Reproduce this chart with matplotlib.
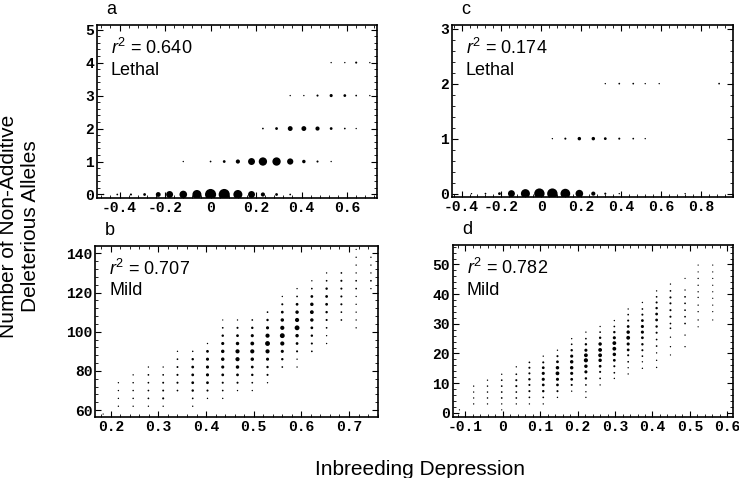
import matplotlib
matplotlib.use("Agg")
import matplotlib.pyplot as plt
from matplotlib.ticker import AutoMinorLocator

plt.rcParams['font.family'] = ['Liberation Sans', 'DejaVu Sans']
plt.rcParams['mathtext.fontset'] = 'custom'
plt.rcParams['mathtext.rm'] = 'Liberation Sans'
plt.rcParams['mathtext.it'] = 'Liberation Sans:italic'

# ---- panel a: lethal, rows of counts (x bin, allele count, dot weight)
a_x = [-0.47, -0.41, -0.35, -0.29, -0.23, -0.18, -0.12, -0.06, 0.0, 0.06, 0.12, 0.18, 0.23, 0.29, 0.35,
       -0.12, 0.0, 0.06, 0.12, 0.18, 0.23, 0.29, 0.35, 0.41, 0.47, 0.53,
       0.23, 0.29, 0.35, 0.41, 0.47, 0.53, 0.59, 0.64,
       0.35, 0.41, 0.47, 0.53, 0.59, 0.64, 0.70,
       0.53, 0.59, 0.64, 0.70]
a_y = [0] * 15 + [1] * 11 + [2] * 8 + [3] * 7 + [4] * 4
a_w = [1, 1.5, 2, 3, 6, 9, 10, 12, 15, 15, 12, 9, 5, 3, 1.5,
       1, 1.5, 3, 5, 9, 11, 11, 8, 4, 2, 1,
       1.5, 3, 6, 6, 5, 3, 1.5, 1,
       1, 1, 2, 3.5, 3, 1.5, 1,
       1, 1, 2, 1]

# ---- panel c: lethal
c_x = [-0.35, -0.28, -0.21, -0.15, -0.08, -0.01, 0.055, 0.12, 0.19, 0.26, 0.32, 0.39, 0.72,
       0.055, 0.12, 0.19, 0.26, 0.32, 0.39, 0.46, 0.52,
       0.32, 0.39, 0.46, 0.52, 0.59, 0.89]
c_y = [0] * 13 + [1] * 8 + [2] * 6
c_w = [1, 1.5, 3, 9, 12, 14, 14, 13, 10, 5, 2, 1, 1,
       1, 2, 4, 4, 3, 2, 1.5, 1,
       1, 1.5, 1.5, 1, 1, 1.5]

# ---- panel b: mild, one entry per x bin
b_cols = [0.184, 0.216, 0.247, 0.279, 0.310, 0.340, 0.372, 0.403, 0.435, 0.466,
          0.497, 0.529, 0.560, 0.591, 0.622, 0.653, 0.684, 0.715, 0.746]
b_ys = [
    [58],
    [74, 70, 66, 62],
    [78, 74, 70, 66, 62],
    [82, 78, 74, 70, 66, 62],
    [82, 78, 74, 70, 66, 62],
    [90, 86, 82, 78, 74, 70],
    [90, 86, 82, 78, 74, 70, 66, 62],
    [94, 90, 86, 82, 78, 74, 70, 66],
    [106, 102, 98, 94, 90, 86, 82, 78, 74, 70, 66],
    [106, 102, 98, 94, 90, 86, 82, 78, 74, 70],
    [106, 102, 98, 94, 90, 86, 82, 78, 74, 70],
    [110, 106, 102, 98, 94, 90, 86, 82, 78, 74],
    [118, 114, 110, 106, 102, 98, 94, 90, 86, 82],
    [122, 118, 114, 110, 106, 102, 98, 94, 90, 86, 82],
    [126, 122, 118, 114, 110, 106, 102, 98, 94, 90],
    [130, 126, 122, 118, 114, 110, 106, 102, 98, 94],
    [130, 126, 122, 118, 114, 110, 106],
    [142, 138, 134, 130, 126, 122, 118, 114, 110, 106, 102],
    [138, 134, 130, 126, 122],
]
b_ws = [
    [0.8],
    [1, 1, 1, 1],
    [1, 1.2, 1.2, 1.2, 1],
    [1, 1.5, 1.5, 1.5, 1.5, 1],
    [1, 1.5, 1.8, 1.8, 2, 1],
    [1, 1.5, 1.8, 2, 2, 1.5],
    [1.2, 2.5, 3, 3, 3, 2.5, 1.5, 1],
    [1, 3, 3.5, 3.5, 3.5, 3, 2, 1],
    [0.8, 1.5, 2.5, 3.5, 4, 4, 3.5, 3, 2, 1.5, 1],
    [1, 2, 3, 4, 5, 5, 4, 3, 2, 1],
    [1.5, 2.5, 3.5, 4.5, 5, 4, 3, 2.5, 1.5, 1],
    [1.5, 2.5, 3.5, 5, 6, 5, 3.5, 2.5, 2, 1],
    [1, 2, 3, 4, 5, 6, 5, 3.5, 2.5, 1.5],
    [1, 1.5, 3, 4, 5, 6, 4, 3, 2, 1, 1],
    [1, 1.5, 3, 4, 4.5, 4, 3, 2.5, 2, 1.5],
    [1, 1.5, 2.5, 3, 3, 2.5, 2, 1.5, 1, 1],
    [1.5, 2, 2, 2, 2, 1.5, 1.5],
    [0.8, 1, 1, 1, 1.5, 1.5, 1, 1, 1, 1, 1],
    [1, 1, 1, 1.5, 1],
]

# ---- panel d: mild
d_cols = [-0.116, -0.078, -0.041, -0.003, 0.036, 0.071, 0.108, 0.146, 0.184, 0.222,
          0.260, 0.298, 0.335, 0.373, 0.411, 0.448, 0.487, 0.522, 0.561]
d_ys = [
    [1],
    [9, 7, 5, 3],
    [11, 9, 7, 5, 3],
    [13, 11, 9, 7, 5, 3, 1],
    [15.5, 13, 11, 9, 7, 5, 3],
    [17, 15.2, 13.3, 11.3, 9.4, 7.3, 5.2, 3],
    [19.1, 17, 15.2, 13.3, 11.3, 9.4, 7.3, 5.2, 3],
    [21.1, 19.1, 17.2, 15.2, 13.3, 11.3, 9.4, 7.3, 5.2],
    [25, 23.1, 21.1, 19.1, 17.2, 15.2, 13.3, 11.3, 9.4, 7.3],
    [27.2, 25, 23.1, 21.1, 19.4, 17.7, 15.7, 13.8, 11.6, 9.4, 7.1, 5.2],
    [29.1, 27.2, 25.3, 23.2, 21.2, 19.4, 17.7, 15.7, 13.8, 11.6, 9.4],
    [31.1, 29.1, 27.2, 25.3, 23.5, 21.6, 19.7, 17.7, 15.7, 13.5, 11.6],
    [35, 33.1, 31.1, 29.1, 27.2, 25.3, 23.2, 21.2, 19.4, 17.2, 15.2, 13.1],
    [37.2, 35, 33.1, 31.1, 29.1, 27.2, 25.3, 23.1, 21.1, 19.1, 17.2, 15],
    [41.1, 39.1, 37.2, 35.3, 33.3, 31.3, 29.1, 27, 24.7, 22.5, 20.2, 17.7, 15.3],
    [43.4, 41.1, 38.9, 36.9, 34.6, 32.4, 30.1, 28.5, 25.5, 22.3, 19.5],
    [45.3, 41.4, 39.1, 36.9, 34.6, 32.4, 30.1, 26.2, 22.3],
    [49.8, 47.5, 45.3, 43, 40.8, 38.9, 36.3, 34.1, 31.3, 29],
    [49.8, 47.5, 45.3, 43, 40.8, 38.6, 36.3, 34.1, 31.3],
]
d_ws = [
    [0.8],
    [1, 1, 1, 1],
    [1, 1.2, 1.2, 1.2, 1],
    [1, 1.5, 1.5, 1.5, 1.5, 1, 0.8],
    [1, 1.5, 2, 2, 1.5, 1.5, 1],
    [1.5, 2, 2, 2.5, 2, 2, 1.5, 1],
    [1, 2, 3, 3.5, 3.5, 3, 2.5, 1.5, 1],
    [1, 2, 3, 4, 4.5, 3.5, 3, 2, 1],
    [1, 1.5, 2.5, 3.5, 4, 4, 3.5, 3, 2, 1],
    [1, 1.5, 2.5, 3.5, 4.5, 5, 4, 3.5, 2.5, 1.5, 1, 1],
    [1, 1.5, 2.5, 4, 4.5, 4.5, 4, 3, 2, 1.5, 1],
    [1, 1.5, 2.5, 3.5, 4.5, 4.5, 4, 3, 2, 1.5, 1],
    [1, 1.5, 2, 3, 4, 4.5, 3.5, 3, 2, 1.5, 1, 1],
    [1, 1.5, 2, 3, 3.5, 3.5, 3, 2.5, 2, 1.5, 1, 1],
    [1, 1.5, 2, 2.5, 3, 3, 2.5, 2, 1.5, 1.5, 1, 1, 1],
    [1, 1.5, 2, 2, 2, 2, 1.5, 1.5, 1, 1, 0.8],
    [0.8, 1, 1.5, 1.5, 1.5, 1.5, 1.5, 1, 1],
    [0.8, 0.8, 1, 1, 1, 1, 1, 1, 1, 0.8],
    [0.8, 0.8, 0.8, 0.8, 0.8, 0.8, 0.8, 0.8, 0.8],
]

panels = {
    'a': dict(r2='0.640', kind='Lethal', xlim=(-0.50, 0.731), ylim=(-0.103, 5.13),
              xticks=[-0.4, -0.2, 0, 0.2, 0.4, 0.6], yticks=[0, 1, 2, 3, 4, 5]),
    'c': dict(r2='0.174', kind='Lethal', xlim=(-0.45, 0.96), ylim=(-0.06, 3.06),
              xticks=[-0.4, -0.2, 0, 0.2, 0.4, 0.6, 0.8], yticks=[0, 1, 2, 3]),
    'b': dict(r2='0.707', kind='Mild', xlim=(0.167, 0.761), ylim=(56.6, 143.9),
              xticks=[0.2, 0.3, 0.4, 0.5, 0.6, 0.7], yticks=[60, 80, 100, 120, 140]),
    'd': dict(r2='0.782', kind='Mild', xlim=(-0.134, 0.616), ylim=(-1.35, 56.5),
              xticks=[-0.1, 0, 0.1, 0.2, 0.3, 0.4, 0.5, 0.6], yticks=[0, 10, 20, 30, 40, 50]),
}


def flatten(cols, ys, ws):
    xs, yy, ww = [], [], []
    for x, col_y, col_w in zip(cols, ys, ws):
        for y, w in zip(col_y, col_w):
            xs.append(x)
            yy.append(y)
            ww.append(w)
    return xs, yy, ww


data = {
    'a': (a_x, a_y, a_w),
    'c': (c_x, c_y, c_w),
    'b': flatten(b_cols, b_ys, b_ws),
    'd': flatten(d_cols, d_ys, d_ws),
}

fig = plt.figure(figsize=(7.39, 4.78), dpi=100)
rects = {
    'a': [0.131, 0.586, 0.379, 0.361],
    'c': [0.611, 0.588, 0.381, 0.359],
    'b': [0.1286, 0.128, 0.383, 0.358],
    'd': [0.6126, 0.128, 0.3797, 0.359],
}

tick_font = dict(family='Liberation Mono', weight='bold', size=10.5)

for key, opt in panels.items():
    ax = fig.add_axes(rects[key])
    x, y, w = data[key]
    # dot diameter (points) grows with the weight
    sizes = [(0.5 * v + 0.5) ** 2 for v in w]
    ax.scatter(x, y, s=sizes, c='black', linewidths=0)
    ax.set_xlim(*opt['xlim'])
    ax.set_ylim(*opt['ylim'])
    ax.set_xticks(opt['xticks'])
    ax.set_yticks(opt['yticks'])
    ax.set_xticklabels(['0' if t == 0 else f'{t:g}' for t in opt['xticks']], fontdict=tick_font)
    ax.set_yticklabels([f'{t:g}' for t in opt['yticks']], fontdict=tick_font)
    ax.xaxis.set_minor_locator(AutoMinorLocator(5))
    ax.yaxis.set_minor_locator(AutoMinorLocator(5))
    ax.tick_params(which='both', direction='in', top=True, right=True, pad=2, colors='black')
    ax.tick_params(which='major', length=4, width=0.8)
    ax.tick_params(which='minor', length=2, width=0.6)
    for sp in ax.spines.values():
        sp.set_linewidth(1.2)
    ax.text(0.05, 0.867, f'$r^2$ = {opt["r2"]}', transform=ax.transAxes, fontsize=13, va='center')
    ax.text(0.05, 0.737, opt['kind'], transform=ax.transAxes, fontsize=13, va='center')
    ax.text(0.035, 1.04, key, transform=ax.transAxes, fontsize=13, va='bottom')

fig.text(0.027, 0.527, 'Number of Non-Additive\nDeleterious Alleles', rotation=90,
         ha='center', va='center', fontsize=15, linespacing=1.2)
fig.text(0.568, 0.018, 'Inbreeding Depression', ha='center', va='center', fontsize=15)

fig.savefig('out.png', dpi=100)
